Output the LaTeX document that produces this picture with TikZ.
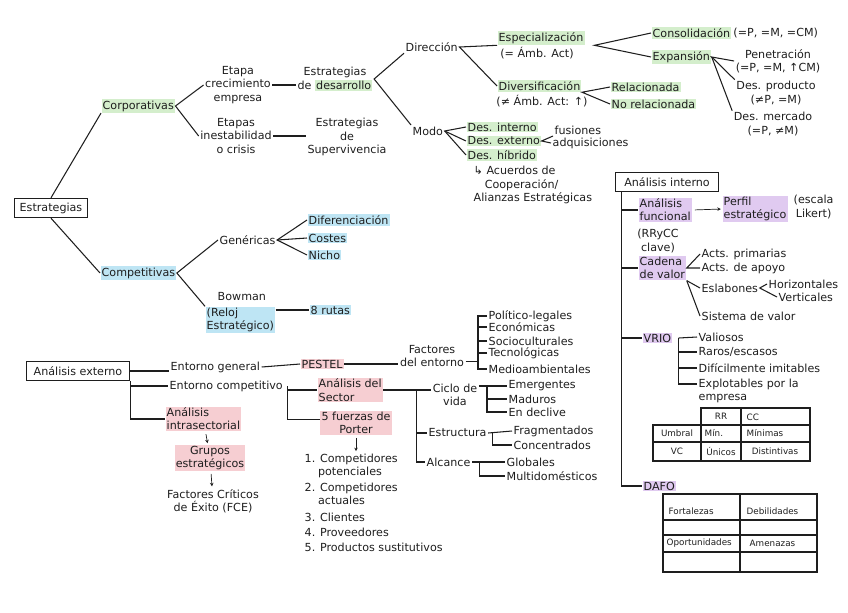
\documentclass[tikz,border=0pt]{standalone}
\usepackage{fontspec}
\setmainfont{DejaVu Sans}
\usetikzlibrary{arrows.meta}
\definecolor{HlGreen}{RGB}{212,238,204}
\definecolor{HlBlue}{RGB}{190,229,244}
\definecolor{HlPink}{RGB}{246,206,210}
\definecolor{HlPurple}{RGB}{224,202,240}
\definecolor{InkClr}{RGB}{30,30,30}
\newcommand\hand{\fontsize{9.5}{11.3}\selectfont}
\newcommand\handsm{\fontsize{7.5}{9}\selectfont}
\newcommand\hlg[1]{{\setlength\fboxsep{1pt}\colorbox{HlGreen}{#1}}}

\begin{document}
\begin{tikzpicture}[x=0.03cm,y=-0.03cm,line width=0.9pt,draw=InkClr,text=InkClr,
  txt/.style={inner sep=1pt,font=\hand,anchor=west},
  mid/.style={anchor=center,align=center},
  grn/.style={txt,fill=HlGreen},
  blu/.style={txt,fill=HlBlue},
  pnk/.style={txt,fill=HlPink},
  prp/.style={txt,fill=HlPurple},
  tab/.style={inner sep=1pt,font=\handsm,anchor=west},
  box/.style={txt,anchor=center,draw,inner sep=2pt,minimum height=0.58cm},
  arr/.style={-{Stealth[length=3pt,width=3pt]},line width=0.6pt,shorten <=2pt,shorten >=1pt}]
\useasboundingbox (0,0) rectangle (848,612);

\node[box,minimum width=2.2cm] (estr) at (51,208) {Estrategias};
\node[grn] (corp) at (101,106) {Corporativas};
\node[blu] (comp) at (100,273) {Competitivas};
\node[txt,mid] (etapa) at (238,85) {Etapa\\crecimiento\\empresa};
\node[txt,mid] (crisis) at (236,136) {Etapas\\inestabilidad\\o crisis};
\node[txt,mid] (desarr) at (335,79) {Estrategias\\de \hlg{desarrollo}};
\node[txt,mid] (superv) at (347,137) {Estrategias\\de\\Supervivencia};
\node[txt] (direc) at (404,47) {Dirección};
\node[txt] (modo) at (411,131) {Modo};
\node[grn] (espec) at (497,38) {Especialización};
\node[txt,mid] (especn) at (537,53) {(= Ámb. Act)};
\node[grn] (diver) at (497,86) {Diversificación};
\node[txt,mid] (divern) at (542,101) {(≠ Ámb. Act: ↑)};
\node[grn] (consol) at (651,33) {Consolidación};
\node[txt] (consoln) at (consol.east) {(=P, =M, =CM)};
\node[grn] (expan) at (651,57) {Expansión};
\node[txt,mid] (penet) at (778,61) {Penetración\\(=P, =M, ↑CM)};
\node[txt,mid] (desprod) at (776,93) {Des. producto\\(≠P, =M)};
\node[txt,mid] (desmerc) at (773,124) {Des. mercado\\(=P, ≠M)};
\node[grn] (relac) at (610,87) {Relacionada};
\node[grn] (norelac) at (610,104) {No relacionada};
\node[grn] (desint) at (466,127) {Des. interno};
\node[grn] (desext) at (466,141) {Des. externo};
\node[grn] (deshib) at (466,155) {Des. híbrido};
\node[txt] (fusion) at (553,130) {fusiones};
\node[txt] (adquis) at (551,143) {adquisiciones};
\node[txt,align=left] (acuerd) at (472,185) {↳ Acuerdos de\\\hspace*{1em}Cooperación/\\Alianzas Estratégicas};

\draw (estr.north) -- (corp.south west);
\draw (estr.south) -- (comp.west);
\draw (etapa.west) -- (corp.east) -- (crisis.west);
\draw (etapa.east) -- (etapa.east -| desarr.west);
\draw (crisis.east) -- (crisis.east -| superv.west);
\draw (direc.south west) -- (desarr.east) -- (modo.north west);
\draw (espec.south west) -- (direc.east) -- (diver.west);
\coordinate (especfork) at ([xshift=8pt]espec.south east);
\draw (consol.west) -- (especfork) -- (expan.west);
\draw (penet.west) -- (expan.east) -- (desprod.north west);
\draw (expan.east) -- (desmerc.north west);
\draw (relac.west) -- (diver.south east) -- (norelac.west);
\draw (desint.west) -- (modo.east) -- (deshib.west);
\draw (modo.east) -- (desext.west);
\draw (fusion.south west) -- (desext.east) -- (adquis.west);

\node[txt] (gener) at (218,240) {Genéricas};
\node[blu] (difer) at (307,220) {Diferenciación};
\node[blu] (costes) at (307,238) {Costes};
\node[blu] (nicho) at (307,255) {Nicho};
\node[txt] (bowman) at (216,297) {Bowman};
\node[blu,align=left] (reloj) at (205,320) {(Reloj\\Estratégico)};
\node[blu] (rutas) at (309,310) {8 rutas};

\draw (gener.west) -- (comp.east) -- (reloj.north west);
\draw (difer.west) -- (gener.east) -- (nicho.west);
\draw (gener.east) -- (costes.west);
\draw (reloj.east |- rutas.west) -- (rutas.west);

\node[box,minimum width=3.1cm] (extbox) at (78,371) {Análisis externo};
\node[txt] (entgen) at (169,367) {Entorno general};
\node[txt] (entcomp) at (168,386) {Entorno competitivo};
\node[pnk,align=left] (intra) at (165,419) {Análisis\\intrasectorial};
\node[pnk,mid] (grupos) at (210,458) {Grupos\\estratégicos};
\node[txt,mid] (fce) at (213,501) {Factores Críticos\\de Éxito (FCE)};

\draw (extbox.east) -- (extbox.east -| entgen.west);
\draw (extbox.south east) |- (entcomp.west);
\draw (extbox.south east) |- (intra.west);
\draw[arr] (intra) -- (grupos);
\draw[arr] (grupos) -- (fce);

\node[pnk] (pestel) at (300,364) {PESTEL};
\node[txt,mid] (factent) at (432,356) {Factores\\del entorno};
\node[txt] (polit) at (487,316) {Político-legales};
\node[txt] (econ) at (487,327) {Económicas};
\node[txt] (socio) at (487,341) {Socioculturales};
\node[txt] (tecno) at (487,353) {Tecnológicas};
\node[txt] (medio) at (487,369) {Medioambientales};

\draw (entgen.east) -- (pestel.west);
\draw (pestel.east) -- (pestel.east -| factent.west);
\draw (polit.west) -- ++(-9,0) coordinate (pbar) |- (medio.west);
\foreach \n in {econ,socio,tecno}
  \draw (\n.west) -- ++(-9,0);
\draw ([yshift=-5pt]factent.east) -- ([yshift=-5pt]factent.east -| pbar);

\node[pnk,align=left] (sector) at (317,390) {Análisis del\\Sector};
\node[pnk,mid] (porter) at (356,423) {5 fuerzas de\\Porter};
\node[txt,align=left] (pot) at (303,466) {1. Competidores\\\hspace*{1.2em}potenciales};
\node[txt,align=left] (act) at (303,494) {2. Competidores\\\hspace*{1.2em}actuales};
\node[txt] (clien) at (303,517) {3. Clientes};
\node[txt] (prov) at (303,532) {4. Proveedores};
\node[txt] (sust) at (303,547) {5. Productos sustitutivos};

\draw (sector.west) -| ([xshift=3pt]entcomp.east) |- ([yshift=3pt]porter.west);
\draw[arr] (porter.south) -- (porter.south |- pot.north);

\node[txt,mid] (ciclo) at (455,395) {Ciclo de\\vida};
\node[txt] (estruc) at (427,433) {Estructura};
\node[txt] (alcance) at (425,462) {Alcance};
\node[txt] (emerg) at (507,386) {Emergentes};
\node[txt] (madur) at (507,399) {Maduros};
\node[txt] (declive) at (507,412) {En declive};
\node[txt] (frag) at (512,431) {Fragmentados};
\node[txt] (conc) at (512,445) {Concentrados};
\node[txt] (glob) at (505,462) {Globales};
\node[txt] (multi) at (505,476) {Multidomésticos};

\draw (sector.east) -- (sector.east -| ciclo.west);
\path (sector.east -| ciclo.west) ++(-15,0) coordinate (sbar);
\draw (sbar) |- (estruc.west);
\draw (sbar) |- (alcance.west);
\draw (ciclo.east |- emerg.west) -- (emerg.west);
\path (emerg.west) ++(-20,0) coordinate (cbar);
\draw (cbar) |- (madur.west);
\draw (cbar) |- (declive.west);
\draw (estruc.east) -- (frag.west);
\draw ([xshift=4pt]estruc.east) |- (conc.west);
\draw (alcance.east) -- (glob.west);
\draw ([xshift=6pt]alcance.east) |- (multi.west);

\node[box,minimum width=3.1cm] (intbox) at (667,182) {Análisis interno};
\node[prp,align=left] (funcional) at (638,210) {Análisis\\funcional};
\node[txt,mid] (rrcc) at (658,241) {(RRyCC\\clave)};
\node[prp,align=left] (perfil) at (722,209) {Perfil\\estratégico};
\node[txt,align=center] (likert) at (792,207) {(escala\\Likert)};
\node[prp,align=left] (cadena) at (638,268) {Cadena\\de valor};
\node[txt] (prim) at (700,254) {Acts. primarias};
\node[txt] (apoyo) at (700,268) {Acts. de apoyo};
\node[txt] (eslab) at (700,288) {Eslabones};
\node[txt] (sistema) at (700,316) {Sistema de valor};
\node[txt] (horiz) at (767,284) {Horizontales};
\node[txt] (vert) at (777,297) {Verticales};
\node[prp] (vrio) at (642,338) {VRIO};
\node[txt] (valio) at (697,337) {Valiosos};
\node[txt] (raros) at (697,352) {Raros/escasos};
\node[txt] (dific) at (697,368) {Difícilmente imitables};
\node[txt,align=left] (explot) at (697,391) {Explotables por la\\empresa};
\node[prp] (dafo) at (642,486) {DAFO};

\path (intbox.south west) ++(7,0) coordinate (ibar);
\foreach \n in {funcional,cadena,vrio,dafo}
  \draw (ibar) |- (\n.west);
\draw[arr] (funcional.east) -- (perfil.west);
\draw (prim.west) -- (cadena.east) -- (apoyo.west);
\draw (cadena.south east) -- (eslab.west);
\draw (cadena.south east) -- (sistema.west);
\draw (horiz.west) -- (eslab.east) -- (vert.west);
\draw ([xshift=5pt]vrio.east) -- (valio.west);
\foreach \n in {raros,dific}
  \draw ([xshift=5pt]vrio.east) |- (\n.west);
\draw ([xshift=5pt]vrio.east) |- ([yshift=6pt]explot.west);

\draw (701,461) -- (701,408) -- (810,408) -- (810,461) -- (653,461) -- (653,425) -- (810,425);
\draw (653,442) -- (810,442);
\draw (741,408) -- (741,461);
\node[tab,anchor=center] (rr) at (721,416) {RR};
\node[tab] (cc) at (745,417) {CC};
\node[tab,anchor=center] (umbral) at (677,433) {Umbral};
\node[tab] (minrr) at (703,433) {Mín.};
\node[tab] (mincc) at (745,433) {Mínimas};
\node[tab,anchor=center] (vc) at (677,451) {VC};
\node[tab,anchor=center] (unicos) at (721,451) {Únicos};
\node[tab,anchor=center] (distin) at (775,451) {Distintivas};

\draw (663,494) rectangle (817,572);
\foreach \y in {520,535,552}
  \draw (663,\y) -- (817,\y);
\draw (740,494) -- (740,572);
\node[tab] (fort) at (667,511) {Fortalezas};
\node[tab] (debil) at (745,511) {Debilidades};
\node[tab] (oport) at (665,543) {Oportunidades};
\node[tab] (amen) at (748,543) {Amenazas};

\end{tikzpicture}
\end{document}
